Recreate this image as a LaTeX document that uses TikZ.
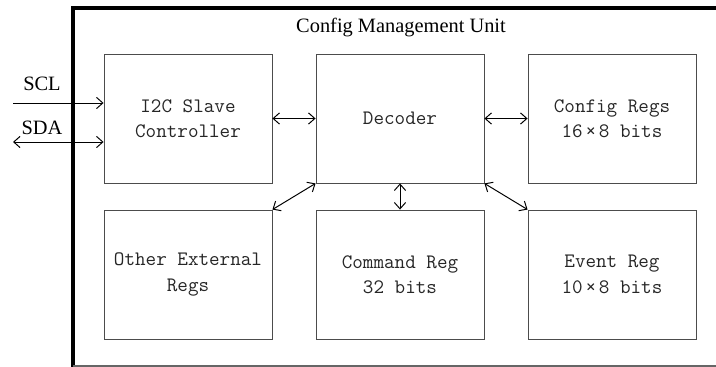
\documentclass[tikz,border=0pt]{standalone}
\usepackage{fontspec}
\setmainfont{Liberation Serif}
\newfontfamily\regfont{Latin Modern Mono}
\usetikzlibrary{arrows.meta}
\tikzset{
    regbox/.style={draw=black!70, line width=0.6pt, text=black!85,
        minimum width=4.2cm, minimum height=3.225cm, align=center,
        font={\regfont\fontsize{14.6}{18}\selectfont}},
    link/.style={{Straight Barb[length=4.5pt,width=8pt]}-{Straight Barb[length=4.5pt,width=8pt]}, line width=0.7pt},
    inlink/.style={-{Straight Barb[length=4.5pt,width=8pt]}, line width=0.7pt},
    lbl/.style={font=\fontsize{14.5}{16}\selectfont}
}
\begin{document}
\begin{tikzpicture}[x=0.025cm, y=-0.025cm]
    \useasboundingbox (0,0) rectangle (716,367);
    % outer unit
    \draw[line width=2.2pt] (73,368) -- (73,8) -- (720,8);
    \draw[black!60, line width=0.8pt] (73,366) -- (720,366);
    \node[lbl] (title) at (401,28) {Config Management Unit};
    % blocks
    \node[regbox] (i2c) at (188,118.5) {I2C Slave\\Controller};
    \node[regbox] (dec) at (400,118.5) {Decoder};
    \node[regbox] (cfg) at (612,118.5) {Config Regs\\16\kern2pt×\kern2pt8 bits};
    \node[regbox] (other) at (188,274.5) {Other External\\Regs};
    \node[regbox] (cmd) at (400,274.5) {Command Reg\\32 bits};
    \node[regbox] (evt) at (612,274.5) {Event Reg\\10\kern2pt×\kern2pt8 bits};
    % I2C pins
    \coordinate (scl) at (13,103);
    \coordinate (sda) at (13,142);
    \node[lbl] (scllbl) at (42,84) {SCL};
    \node[lbl] (sdalbl) at (42,128) {SDA};
    \draw[inlink] (scl) -- (scl -| i2c.west);
    \draw[link] (sda) -- (sda -| i2c.west);
    % internal links
    \draw[link] (i2c.east) -- (dec.west);
    \draw[link] (dec.east) -- (cfg.west);
    \draw[link] (dec.south) -- (cmd.north);
    \draw[link] (dec.south west) -- (other.north east);
    \draw[link] (dec.south east) -- (evt.north west);
\end{tikzpicture}
\end{document}
